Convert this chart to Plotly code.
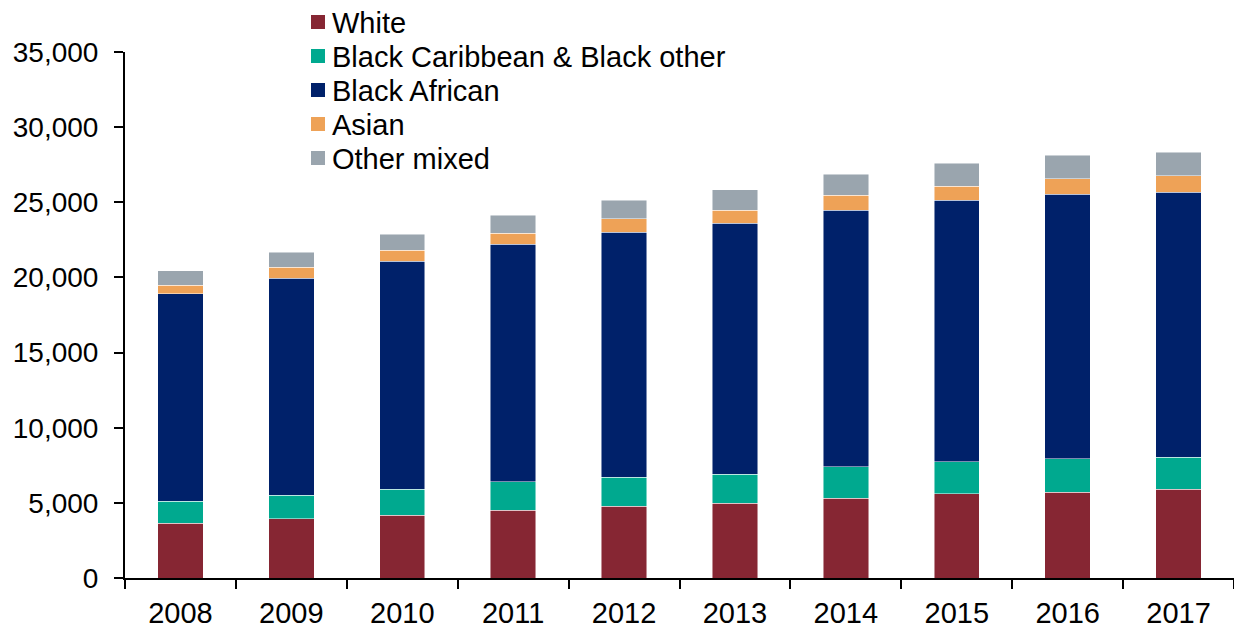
import plotly.graph_objects as go

years = ["2008", "2009", "2010", "2011", "2012", "2013", "2014", "2015", "2016", "2017"]

white = [3660, 3930, 4190, 4520, 4790, 4990, 5320, 5590, 5720, 5920]
black_caribbean_other = [1460, 1590, 1730, 1870, 1930, 1930, 2070, 2130, 2200, 2130]
black_african = [13780, 14440, 15170, 15830, 16300, 16700, 17090, 17430, 17630, 17630]
asian = [590, 730, 730, 730, 870, 860, 1000, 930, 1000, 1070]
other_mixed = [940, 1000, 1070, 1200, 1260, 1340, 1400, 1530, 1590, 1590]

series_names = ["White", "Black Caribbean & Black other", "Black African", "Asian", "Other mixed"]
series_values = [white, black_caribbean_other, black_african, asian, other_mixed]
series_colors = ["#862633", "#00A98F", "#00216A", "#EEA257", "#9AA5AE"]

W, H = 1234, 630
M_L, M_R, M_T, M_B = 125, 0, 52, 52
plot_w = W - M_L - M_R
plot_h = H - M_T - M_B

font_family = "Liberation Sans, Arial, sans-serif"

fig = go.Figure()
for name, vals, color in zip(series_names, series_values, series_colors):
    fig.add_trace(go.Bar(
        x=years, y=vals, name=name,
        marker=dict(color=color, line=dict(color="rgba(255,255,255,0.6)", width=0.8)),
        showlegend=False,
    ))

# Hand-placed legend: small squares with labels, stacked in a column above the plot
def px_to_paper_x(px):
    return (px - M_L) / plot_w

def px_to_paper_y(py):
    return (H - M_B - py) / plot_h

leg_left, leg_top_center, leg_step, sq = 311, 22, 34, 14
for i, (name, color) in enumerate(zip(series_names, series_colors)):
    cy = leg_top_center + i * leg_step
    fig.add_shape(
        type="rect", xref="paper", yref="paper",
        x0=px_to_paper_x(leg_left), x1=px_to_paper_x(leg_left + sq),
        y0=px_to_paper_y(cy + sq / 2), y1=px_to_paper_y(cy - sq / 2),
        fillcolor=color, line=dict(width=0),
    )
    fig.add_annotation(
        xref="paper", yref="paper",
        x=px_to_paper_x(leg_left + sq + 5), y=px_to_paper_y(cy + 1),
        xanchor="left", yanchor="middle",
        text=name, showarrow=False,
        font=dict(family=font_family, size=29, color="#000000"),
    )

fig.update_layout(
    width=W, height=H,
    barmode="stack",
    bargap=0.59,
    plot_bgcolor="white", paper_bgcolor="white",
    margin=dict(l=M_L, r=M_R, t=M_T, b=M_B),
    font=dict(family=font_family, size=28, color="#000000"),
    showlegend=False,
    xaxis=dict(
        type="category",
        showline=True, linecolor="#000000", linewidth=2,
        ticks="outside", tickson="boundaries", ticklen=9, tickwidth=2, tickcolor="#000000",
        ticklabelstandoff=8,
        showgrid=False,
        tickfont=dict(size=29),
    ),
    yaxis=dict(
        range=[0, 35000],
        tickvals=[0, 5000, 10000, 15000, 20000, 25000, 30000, 35000],
        tickformat=",d",
        showline=True, linecolor="#000000", linewidth=2,
        ticks="outside", ticklen=9, tickwidth=2, tickcolor="#000000",
        ticklabelstandoff=10,
        showgrid=False, zeroline=False,
        tickfont=dict(size=28),
    ),
)

fig.write_html("out.html")
